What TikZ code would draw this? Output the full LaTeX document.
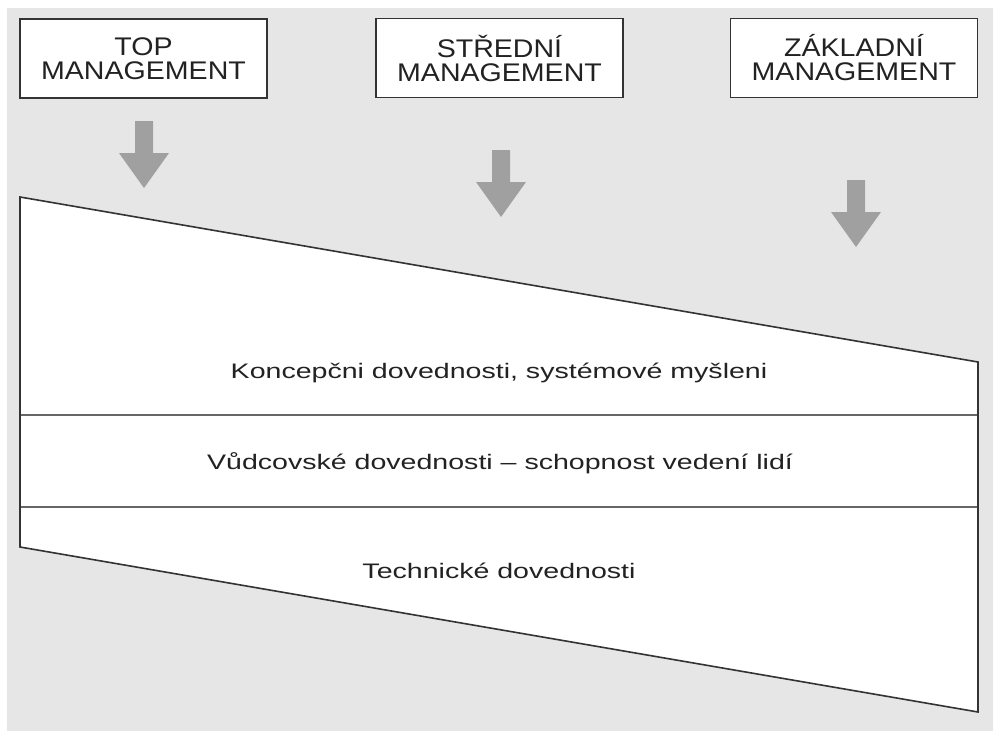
\documentclass[tikz,border=0pt]{standalone}
\usepackage{fontspec}
\setmainfont{Liberation Sans}
\newfontfamily\boxfont[FakeStretch=1.12]{Liberation Sans}
\newfontfamily\bodyfont[FakeStretch=1.36]{Liberation Sans}
\definecolor{bggray}{HTML}{E6E6E6}
\definecolor{arrgray}{HTML}{A0A0A0}
\definecolor{linedark}{HTML}{333333}
\definecolor{linemid}{HTML}{666666}
\definecolor{txt}{HTML}{222222}
\tikzset{
  levelbox/.style={draw=linedark, line width=1.6pt, fill=white, minimum width=247pt, minimum height=79pt, align=center, inner sep=0pt, text=txt, font=\boxfont\fontsize{25.5}{24}\selectfont},
  skilltext/.style={text=txt, inner sep=0pt, font=\bodyfont\fontsize{21}{24}\selectfont},
  blockarrow/.style={fill=arrgray, draw=none},
}
\begin{document}
\begin{tikzpicture}[x=1pt,y=-1pt]
\useasboundingbox (0,0) rectangle (993,731);
\fill[white] (0,0) rectangle (993,731);
\fill[bggray] (7,8) rectangle (993,731);
% level boxes
\node[levelbox] (top) at (143.5,58.5) {TOP\\MANAGEMENT};
\node[levelbox] (mid) at (499.5,58) {STŘEDNÍ\\MANAGEMENT};
\node[levelbox] (base) at (854,58) {ZÁKLADNÍ\\MANAGEMENT};
% arrows
\foreach \cx/\yy in {144/121, 501/150, 856/180}{
  \fill[blockarrow] (\cx-9,\yy) -- (\cx+9,\yy) -- (\cx+9,\yy+32) -- (\cx+25,\yy+32)
     -- (\cx,\yy+67) -- (\cx-25,\yy+32) -- (\cx-9,\yy+32) -- cycle;
}
% trapezoid
\coordinate (tl) at (20,197);
\coordinate (tr) at (978,362);
\coordinate (br) at (978,712);
\coordinate (bl) at (20,547);
\coordinate (l1) at (20,415);
\coordinate (r1) at (978,415);
\coordinate (l2) at (20,507);
\coordinate (r2) at (978,507);
\fill[white] (tl) -- (tr) -- (br) -- (bl) -- cycle;
\draw[linemid, line width=1.3pt] (l1) -- (r1);
\draw[linemid, line width=1.3pt] (l2) -- (r2);
\draw[linedark, line width=1.6pt, line join=miter] (tl) -- (tr) -- (br) -- (bl) -- cycle;
% texts
\node[skilltext] (konc) at (499,373) {Koncepčni dovednosti, systémové myšleni};
\node[skilltext] (vud) at (500,463) {Vůdcovské dovednosti – schopnost vedení lidí};
\node[skilltext] (tech) at (499,571) {Technické dovednosti};
\end{tikzpicture}
\end{document}
